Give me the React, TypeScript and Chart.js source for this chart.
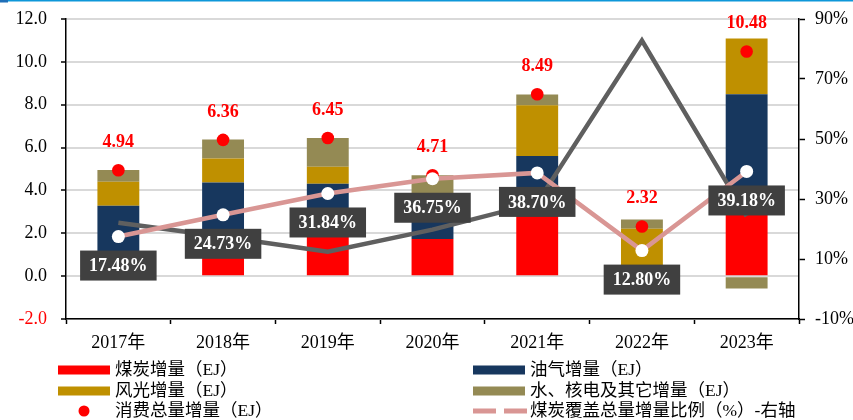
import React, { useEffect, useRef } from 'react';
import { Chart, registerables } from 'chart.js';

Chart.register(...registerables);

const SERIF = "'Liberation Serif', 'Noto Sans CJK SC', serif";

// ---- data ----
const years = ['2017年', '2018年', '2019年', '2020年', '2021年', '2022年', '2023年'];
const coal = [0.86, 1.57, 2.05, 1.73, 3.29, 0.3, 4.11];
const oilGas = [2.42, 2.8, 2.26, 1.27, 2.32, -0.32, 4.38];
const windSolar = [1.12, 1.12, 0.79, 0.85, 2.37, 1.91, 2.6];
const hydroNuclear = [0.55, 0.89, 1.35, 0.86, 0.5, 0.43, -0.58];
const totals = [4.94, 6.36, 6.45, 4.71, 8.49, 2.32, 10.48];
const coalCoverage = [17.48, 24.73, 31.84, 36.75, 38.7, 12.8, 39.18];
const grayLine = [22.1, 17.4, 12.4, 19.8, 28.7, 82.8, 24.3];

const leftTicks = { min: -2, max: 12, step: 2 };
const rightTicks = { min: -10, max: 90, step: 20 };

const labels = {
  coal: '煤炭增量（EJ）',
  oilGas: '油气增量（EJ）',
  windSolar: '风光增量（EJ）',
  hydro: '水、核电及其它增量（EJ）',
  total: '消费总量增量（EJ）',
  coverage: '煤炭覆盖总量增量比例（%）-右轴',
};

const COLORS = {
  coal: '#ff0000',
  oilGas: '#17375e',
  windSolar: '#bf9000',
  hydro: '#948a54',
  total: '#ff0000',
  coverage: '#d99694',
  gray: '#5f5f5f',
  box: '#404040',
};

export default function App() {
  const ref = useRef<HTMLCanvasElement>(null);

  useEffect(() => {
    document.body.style.margin = '0';
    const canvas = ref.current!;

    const valueLabels = {
      id: 'valueLabels',
      afterDatasetsDraw(chart: any) {
        const c = chart.ctx;
        c.save();
        c.font = `bold 18px ${SERIF}`;
        c.textAlign = 'center';
        c.textBaseline = 'middle';
        const dotMeta = chart.getDatasetMeta(4);
        dotMeta.data.forEach((pt: any, i: number) => {
          c.fillStyle = COLORS.total;
          c.fillText(totals[i].toFixed(2), pt.x, pt.y - 28);
        });
        const covMeta = chart.getDatasetMeta(5);
        covMeta.data.forEach((pt: any, i: number) => {
          const t = coalCoverage[i].toFixed(2) + '%';
          const w = c.measureText(t).width + 18;
          const cy = pt.y + 29;
          c.fillStyle = COLORS.box;
          c.fillRect(pt.x - w / 2, cy - 15, w, 30);
          c.fillStyle = '#ffffff';
          c.fillText(t, pt.x, cy + 1);
        });
        c.restore();
      },
    };

    const customLegend = {
      id: 'customLegend',
      afterDraw(chart: any) {
        const c = chart.ctx;
        c.save();
        // top decoration line
        c.fillStyle = '#0e97d9';
        c.fillRect(0, 0, 853, 1.5);
        c.fillStyle = '#1f6fb8';
        c.fillRect(0, 0, 8, 2.5);

        const items = [
          { ds: 0, x: 58, y: 370, kind: 'rect' },
          { ds: 1, x: 473, y: 370, kind: 'rect' },
          { ds: 2, x: 58, y: 391, kind: 'rect' },
          { ds: 3, x: 473, y: 391, kind: 'rect' },
          { ds: 4, x: 58, y: 411, kind: 'dot' },
          { ds: 5, x: 473, y: 411, kind: 'dash' },
        ];
        c.font = `17.5px ${SERIF}`;
        c.textAlign = 'left';
        c.textBaseline = 'middle';
        items.forEach((it) => {
          const ds = chart.data.datasets[it.ds];
          if (it.kind === 'rect') {
            c.fillStyle = ds.backgroundColor;
            c.fillRect(it.x, it.y - 4.5, 52, 9);
          } else if (it.kind === 'dot') {
            c.fillStyle = ds.pointBackgroundColor;
            c.beginPath();
            c.arc(it.x + 26, it.y, 5.5, 0, Math.PI * 2);
            c.fill();
          } else {
            c.strokeStyle = ds.borderColor;
            c.lineWidth = 5;
            c.setLineDash([23, 8]);
            c.beginPath();
            c.moveTo(it.x, it.y);
            c.lineTo(it.x + 54, it.y);
            c.stroke();
            c.setLineDash([]);
          }
          c.fillStyle = '#000';
          c.fillText(ds.label, it.x + 57, it.y);
        });
        c.restore();
      },
    };

    const chart = new Chart(canvas, {
      type: 'bar',
      data: {
        labels: years,
        datasets: [
          { type: 'bar', label: labels.coal, data: coal, backgroundColor: COLORS.coal, stack: 'bars', yAxisID: 'y', order: 10 },
          { type: 'bar', label: labels.oilGas, data: oilGas, backgroundColor: COLORS.oilGas, stack: 'bars', yAxisID: 'y', order: 10 },
          { type: 'bar', label: labels.windSolar, data: windSolar, backgroundColor: COLORS.windSolar, stack: 'bars', yAxisID: 'y', order: 10 },
          { type: 'bar', label: labels.hydro, data: hydroNuclear, backgroundColor: COLORS.hydro, stack: 'bars', yAxisID: 'y', order: 10 },
          {
            type: 'line', label: labels.total, data: totals, yAxisID: 'y', stack: 'dots', showLine: false,
            pointRadius: 6.3, pointBackgroundColor: COLORS.total, pointBorderWidth: 0, borderColor: COLORS.total, order: 2,
          },
          {
            type: 'line', label: labels.coverage, data: coalCoverage, yAxisID: 'y1', borderColor: COLORS.coverage, borderWidth: 4.5,
            pointRadius: 6.5, pointBackgroundColor: '#ffffff', pointBorderWidth: 0, tension: 0, order: 1,
          },
          {
            type: 'line', label: '', data: grayLine, yAxisID: 'y1', borderColor: COLORS.gray, borderWidth: 4.5,
            pointRadius: 0, tension: 0, order: 3,
          },
        ],
      } as any,
      options: {
        animation: false,
        responsive: false,
        devicePixelRatio: 1,
        layout: { padding: { top: 19, bottom: 61, left: 0, right: 0 } },
        datasets: { bar: { categoryPercentage: 1, barPercentage: 0.4 } },
        plugins: { legend: { display: false }, tooltip: { enabled: false } },
        scales: {
          x: {
            stacked: true,
            offset: true,
            grid: { offset: true, drawOnChartArea: false, tickLength: 5, tickColor: '#000', tickWidth: 1.5 },
            border: { color: '#000', width: 1.5 },
            ticks: { color: '#000', font: { size: 18, family: SERIF }, padding: 8, maxRotation: 0, autoSkip: false },
            afterFit: (s: any) => { s.height = 40; },
          },
          y: {
            stacked: true,
            position: 'left',
            min: leftTicks.min,
            max: leftTicks.max,
            ticks: {
              stepSize: leftTicks.step,
              callback: (v: any) => Number(v).toFixed(1),
              color: (ctx: any) => (ctx.tick && ctx.tick.value < 0 ? '#ff0000' : '#000'),
              font: { size: 18, family: SERIF },
              padding: 14,
            },
            grid: { color: '#d9d9d9', lineWidth: 2, tickColor: '#000', tickLength: 5, tickWidth: 1.5 },
            border: { color: '#000', width: 1.5 },
            afterFit: (s: any) => { s.width = 66; s.paddingTop = 0; s.paddingBottom = 0; },
          },
          y1: {
            position: 'right',
            min: rightTicks.min,
            max: rightTicks.max,
            ticks: {
              stepSize: rightTicks.step,
              callback: (v: any) => v + '%',
              color: '#000',
              font: { size: 18, family: SERIF },
              padding: 10,
            },
            grid: { drawOnChartArea: false, tickColor: '#000', tickLength: 6, tickWidth: 1.5 },
            border: { color: '#000', width: 1.5 },
            afterFit: (s: any) => { s.width = 54; s.paddingTop = 0; s.paddingBottom = 0; },
          },
        },
      } as any,
      plugins: [valueLabels, customLegend],
    });

    return () => chart.destroy();
  }, []);

  return (
    <div style={{ position: 'fixed', left: 0, top: 0, width: 853, height: 420, background: '#fff' }}>
      <canvas ref={ref} width={853} height={420} style={{ display: 'block' }} />
    </div>
  );
}
